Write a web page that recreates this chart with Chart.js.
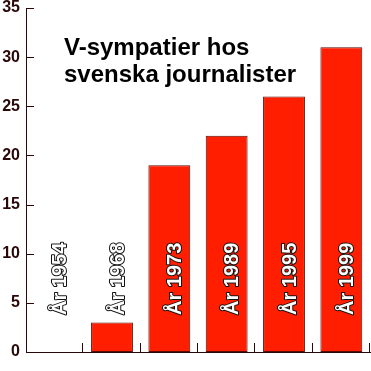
<!DOCTYPE html>
<html>
<head>
<meta charset="utf-8">
<script src="https://cdn.jsdelivr.net/npm/chart.js@4"></script>
<style>
    html, body { margin: 0; padding: 0; background: #fff; }
    #wrap { width: 371px; height: 371px; }
</style>
</head>
<body>
<div id="wrap"><canvas id="chart" width="371" height="371"></canvas></div>
<script>
// Chart data
const years = ['År 1954', 'År 1968', 'År 1973', 'År 1989', 'År 1995', 'År 1999'];
const share = [0, 3, 19, 22, 26, 31];
const titleLines = ['V-sympatier hos', 'svenska journalister'];

const axisColor = '#2a0808';

// Draws inward tick marks, the title inside the plot and the rotated year labels
const decorations = {
    id: 'decorations',
    afterDatasetsDraw(chart) {
        const ctx = chart.ctx;
        const x = chart.scales.x;
        const y = chart.scales.y;
        const area = chart.chartArea;

        ctx.save();
        ctx.strokeStyle = axisColor;
        ctx.lineWidth = 1;

        // y ticks point into the plot
        y.ticks.forEach(t => {
            const py = Math.round(y.getPixelForValue(t.value)) + 0.5;
            ctx.beginPath();
            ctx.moveTo(area.left, py);
            ctx.lineTo(area.left + 8, py);
            ctx.stroke();
        });

        // x ticks at category boundaries, pointing up
        const step = (area.right - area.left) / years.length;
        for (let i = 1; i <= years.length; i++) {
            const px = Math.round(area.left + i * step) - 0.5;
            ctx.beginPath();
            ctx.moveTo(px, area.bottom);
            ctx.lineTo(px, area.bottom - 9);
            ctx.stroke();
        }

        // title
        ctx.fillStyle = '#000';
        ctx.font = 'bold 24px "Liberation Sans", Arial, sans-serif';
        ctx.textAlign = 'left';
        ctx.textBaseline = 'alphabetic';
        ctx.fillText(titleLines[0], 64, 55);
        ctx.fillText(titleLines[1], 64, 82);

        // year labels, white with dark outline
        ctx.font = 'bold 20px "Liberation Sans", Arial, sans-serif';
        ctx.textBaseline = 'middle';
        ctx.lineJoin = 'round';
        years.forEach((label, i) => {
            const cx = x.getPixelForValue(i) + 6;
            ctx.save();
            ctx.translate(cx, 315);
            ctx.rotate(-Math.PI / 2);
            ctx.lineWidth = 2;
            ctx.strokeStyle = '#111';
            ctx.strokeText(label, 0, 0);
            ctx.fillStyle = '#fff';
            ctx.fillText(label, 0, 0);
            ctx.restore();
        });
        ctx.restore();
    }
};

new Chart(document.getElementById('chart').getContext('2d'), {
    type: 'bar',
    data: {
        labels: years,
        datasets: [{
            data: share,
            backgroundColor: '#ff1e00',
            borderColor: '#5a0a00',
            borderWidth: 1,
            borderSkipped: false,
            categoryPercentage: 1,
            barPercentage: 0.73
        }]
    },
    options: {
        responsive: false,
        animation: false,
        devicePixelRatio: 1,
        layout: { padding: { top: 0, right: 1, left: 0, bottom: 0 } },
        plugins: {
            legend: { display: false },
            tooltip: { enabled: false }
        },
        scales: {
            x: {
                offset: true,
                grid: { display: false, drawTicks: false },
                border: { display: true, color: axisColor, width: 1 },
                ticks: { display: false },
                afterFit: s => { s.height = 19; }
            },
            y: {
                min: 0,
                max: 35,
                grid: { display: false, drawTicks: false },
                border: { display: true, color: axisColor, width: 1 },
                ticks: {
                    stepSize: 5,
                    padding: 6,
                    color: axisColor,
                    font: { family: '"Liberation Sans", Arial, sans-serif', size: 16, weight: 'bold', lineHeight: 1 }
                },
                afterFit: s => {
                    s.width = 26;
                    s.paddingTop = 8;
                    s.paddingBottom = 0;
                }
            }
        }
    },
    plugins: [decorations]
});
</script>
</body>
</html>
